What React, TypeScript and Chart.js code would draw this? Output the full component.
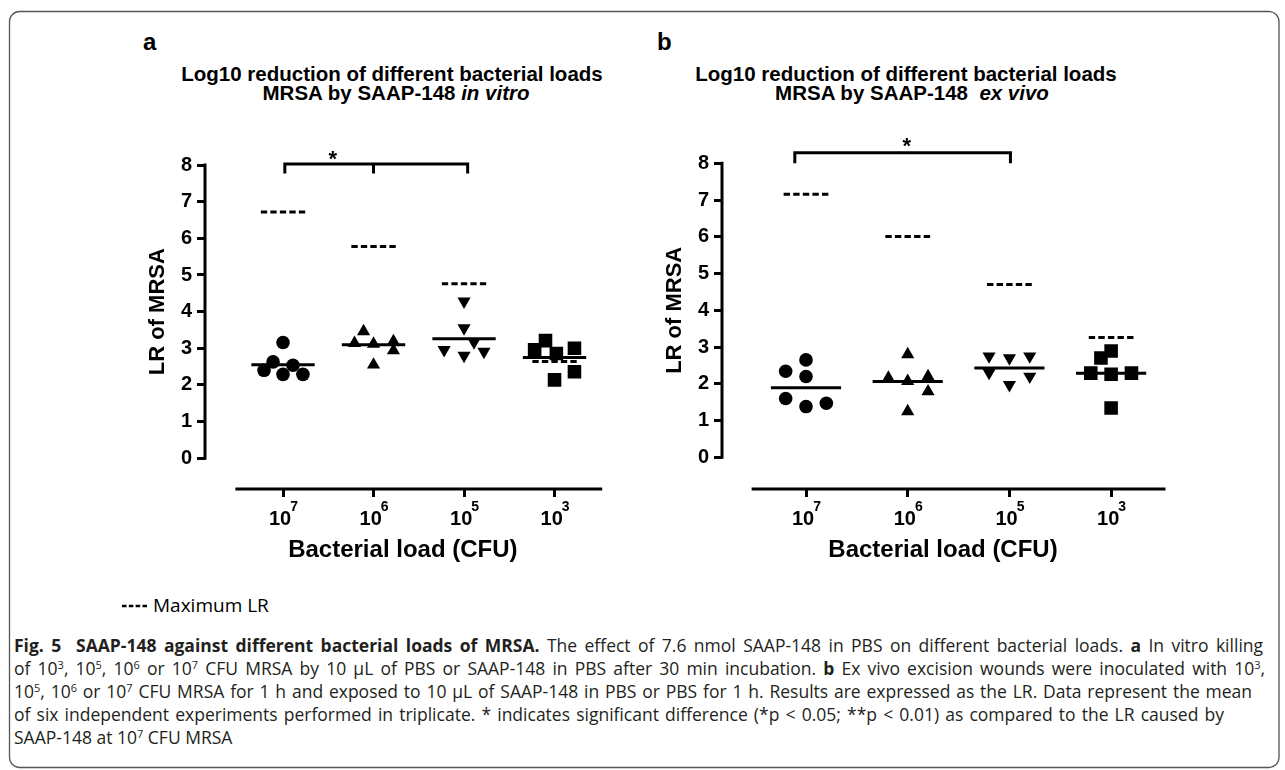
import React, { useEffect, useRef } from "react";
import { Chart, registerables } from "chart.js";

Chart.register(...registerables);

// ---------------- DATA ----------------
// categories: bacterial load 10^n CFU (exponents shown as tick labels)
const loadExponents = ["7", "6", "5", "3"];
const yTickValues = [0, 1, 2, 3, 4, 5, 6, 7, 8];

// panel a: in vitro (LR of MRSA), six replicates per load
const vitroLoad7 = [3.16, 2.63, 2.54, 2.4, 2.29, 2.29];
const vitroLoad7Jitter = [0, -0.11, 0.11, -0.21, 0, 0.22];
const vitroLoad6 = [3.46, 3.14, 3.12, 3.19, 2.94, 2.55];
const vitroLoad6Jitter = [-0.11, -0.21, 0, 0.22, 0.22, 0];
const vitroLoad5 = [4.28, 3.55, 2.96, 3.17, 2.91, 2.8];
const vitroLoad5Jitter = [0, 0, -0.22, 0.11, 0.22, 0];
const vitroLoad3 = [2.96, 3.21, 2.86, 3.0, 2.36, 2.14];
const vitroLoad3Jitter = [-0.22, -0.1, 0.02, 0.22, 0.22, 0];
const vitroMeans = [2.55, 3.1, 3.26, 2.75];
const vitroMaxLR = [6.72, 5.78, 4.76, 2.64];

// panel b: ex vivo
const vivoLoad7 = [2.65, 2.34, 2.2, 1.6, 1.38, 1.47];
const vivoLoad7Jitter = [0, -0.2, 0, -0.2, 0, 0.2];
const vivoLoad6 = [2.8, 2.16, 2.07, 2.2, 1.79, 1.25];
const vivoLoad6Jitter = [0, -0.19, 0, 0.2, 0.2, 0];
const vivoLoad5 = [2.75, 2.7, 2.75, 2.3, 1.97, 2.2];
const vivoLoad5Jitter = [-0.2, 0, 0.2, -0.2, 0, 0.2];
const vivoLoad3 = [2.89, 2.7, 2.29, 2.26, 2.29, 1.34];
const vivoLoad3Jitter = [0, -0.1, -0.2, 0, 0.2, 0];
const vivoMeans = [1.89, 2.06, 2.43, 2.29];
const vivoMaxLR = [7.16, 6.01, 4.7, 3.26];

// ---------------- STYLE ----------------
const FONT = '"Liberation Sans", Arial, Helvetica, sans-serif';
const CAPTION_FONT = '"Open Sans", "Noto Sans", sans-serif';
const CAPTION_SIZE = 17.5;
const CAPTION_SUP = 11;

const markerStyles = [
  { style: "circle", rotation: 0, radius: 6.8 },
  { style: "triangle", rotation: 0, radius: 7.6 },
  { style: "triangle", rotation: 180, radius: 7.6 },
  { style: "rect", rotation: 0, radius: 9.6 },
];

type PanelCfg = {
  values: number[][];
  jitter: number[][];
  means: number[];
  maxLR: number[];
  box: { left: number; top: number; width: number; height: number };
  xMin: number;
  xMax: number;
  axisFrom: number;
  yMin: number;
  padTop: number;
  padRight: number;
  yScaleWidth: number;
  xScaleHeight: number;
  titlePadBottom: number;
  meanHalf: number;
  dashHalf: number;
  bracketLegs: number[];
  bracketTop: number;
  bracketLegEnd: number;
  star: number[];
};

const panelA: PanelCfg = {
  values: [vitroLoad7, vitroLoad6, vitroLoad5, vitroLoad3],
  jitter: [vitroLoad7Jitter, vitroLoad6Jitter, vitroLoad5Jitter, vitroLoad3Jitter],
  means: vitroMeans,
  maxLR: vitroMaxLR,
  box: { left: 100, top: 120, width: 530, height: 460 },
  xMin: -0.862,
  xMax: 3.51,
  axisFrom: -0.51,
  yMin: -0.837,
  padTop: 45,
  padRight: 29.3,
  yScaleWidth: 105,
  xScaleHeight: 91,
  titlePadBottom: 15.6,
  meanHalf: 0.35,
  dashHalf: 0.245,
  bracketLegs: [0.02, 1.0, 2.04],
  bracketTop: 8.03,
  bracketLegEnd: 7.77,
  star: [0.55, 8.32],
};

const panelB: PanelCfg = {
  values: [vivoLoad7, vivoLoad6, vivoLoad5, vivoLoad3],
  jitter: [vivoLoad7Jitter, vivoLoad6Jitter, vivoLoad5Jitter, vivoLoad3Jitter],
  means: vivoMeans,
  maxLR: vivoMaxLR,
  box: { left: 630, top: 120, width: 550, height: 460 },
  xMin: -0.826,
  xMax: 3.52,
  axisFrom: -0.52,
  yMin: -0.863,
  padTop: 43.3,
  padRight: 16,
  yScaleWidth: 92,
  xScaleHeight: 91,
  titlePadBottom: 15.6,
  meanHalf: 0.345,
  dashHalf: 0.22,
  bracketLegs: [-0.11, 2.01],
  bracketTop: 8.29,
  bracketLegEnd: 8.0,
  star: [0.99, 8.63],
};

function overlayPlugin(p: PanelCfg) {
  return {
    id: "gpOverlay",
    afterDatasetsDraw(chart: any) {
      const { ctx } = chart;
      const xs = chart.scales.x;
      const ys = chart.scales.y;
      ctx.save();
      ctx.strokeStyle = "#000";
      ctx.lineWidth = 3;
      ctx.lineCap = "butt";
      p.means.forEach((m, i) => {
        const y = ys.getPixelForValue(m);
        ctx.beginPath();
        ctx.moveTo(xs.getPixelForValue(i - p.meanHalf), y);
        ctx.lineTo(xs.getPixelForValue(i + p.meanHalf), y);
        ctx.stroke();
      });
      p.maxLR.forEach((m, i) => {
        const x1 = xs.getPixelForValue(i - p.dashHalf);
        const x2 = xs.getPixelForValue(i + p.dashHalf);
        const d = (x2 - x1) / 7;
        ctx.setLineDash([d, d / 2]);
        const y = ys.getPixelForValue(m);
        ctx.beginPath();
        ctx.moveTo(x1, y);
        ctx.lineTo(x2, y);
        ctx.stroke();
      });
      ctx.setLineDash([]);
      ctx.restore();
    },
    afterDraw(chart: any) {
      const { ctx, chartArea } = chart;
      const xs = chart.scales.x;
      const ys = chart.scales.y;
      ctx.save();
      ctx.strokeStyle = "#000";
      ctx.fillStyle = "#000";
      ctx.lineWidth = 3;
      // axis lines (GraphPad-style detached axes)
      ctx.lineCap = "square";
      ctx.beginPath();
      ctx.moveTo(chartArea.left, ys.getPixelForValue(yTickValues[yTickValues.length - 1]));
      ctx.lineTo(chartArea.left, ys.getPixelForValue(yTickValues[0]));
      ctx.stroke();
      ctx.beginPath();
      ctx.moveTo(xs.getPixelForValue(p.axisFrom), chartArea.bottom);
      ctx.lineTo(xs.getPixelForValue(p.xMax), chartArea.bottom);
      ctx.stroke();
      // x tick labels 10^n
      loadExponents.forEach((e, i) => {
        const cx = xs.getPixelForValue(i);
        ctx.font = `bold 20px ${FONT}`;
        const w1 = ctx.measureText("10").width;
        ctx.font = `bold 14px ${FONT}`;
        const w2 = ctx.measureText(e).width;
        const x0 = cx - (w1 + w2) / 2 + 1;
        ctx.textAlign = "left";
        ctx.textBaseline = "alphabetic";
        ctx.font = `bold 20px ${FONT}`;
        ctx.fillText("10", x0, chartArea.bottom + 36);
        ctx.font = `bold 14px ${FONT}`;
        ctx.fillText(e, x0 + w1 - 1, chartArea.bottom + 22);
      });
      // y title
      ctx.save();
      const yMid = (ys.getPixelForValue(0) + ys.getPixelForValue(8)) / 2;
      ctx.translate(chartArea.left - 47, yMid);
      ctx.rotate(-Math.PI / 2);
      ctx.font = `bold 22px ${FONT}`;
      ctx.textAlign = "center";
      ctx.textBaseline = "middle";
      ctx.fillText("LR of MRSA", 0, 0);
      ctx.restore();
      // significance bracket
      ctx.lineCap = "butt";
      ctx.lineJoin = "miter";
      ctx.lineWidth = 3;
      const yT = ys.getPixelForValue(p.bracketTop);
      const yL = ys.getPixelForValue(p.bracketLegEnd);
      const legs = p.bracketLegs.map((v) => xs.getPixelForValue(v));
      const last = legs.length - 1;
      ctx.beginPath();
      ctx.moveTo(legs[0], yL);
      ctx.lineTo(legs[0], yT);
      ctx.lineTo(legs[last], yT);
      ctx.lineTo(legs[last], yL);
      for (let k = 1; k < last; k++) {
        ctx.moveTo(legs[k], yT);
        ctx.lineTo(legs[k], yL);
      }
      ctx.stroke();
      ctx.font = `bold 22px ${FONT}`;
      ctx.textAlign = "center";
      ctx.textBaseline = "alphabetic";
      ctx.fillText("*", xs.getPixelForValue(p.star[0]), ys.getPixelForValue(p.star[1]) + 0.575 * 22);
      ctx.restore();
    },
  };
}

function buildConfig(p: PanelCfg): any {
  return {
    type: "scatter",
    data: {
      datasets: p.values.map((vals, gi) => ({
        label: "10^" + loadExponents[gi],
        data: vals.map((v, j) => ({ x: gi + p.jitter[gi][j], y: v })),
        pointStyle: markerStyles[gi].style,
        pointRotation: markerStyles[gi].rotation,
        pointRadius: markerStyles[gi].radius,
        pointHoverRadius: markerStyles[gi].radius,
        pointBackgroundColor: "#000",
        pointBorderColor: "#000",
        pointBorderWidth: 0,
        showLine: false,
      })),
    },
    options: {
      animation: false,
      responsive: true,
      maintainAspectRatio: false,
      events: [],
      layout: { padding: { left: 0, top: p.padTop, right: p.padRight, bottom: 0 } },
      plugins: { legend: { display: false }, tooltip: { enabled: false }, title: { display: false } },
      scales: {
        x: {
          type: "linear",
          min: p.xMin,
          max: p.xMax,
          afterBuildTicks: (s: any) => {
            s.ticks = loadExponents.map((_, i) => ({ value: i }));
          },
          afterFit: (s: any) => {
            s.height = p.xScaleHeight;
          },
          grid: { drawOnChartArea: false, drawTicks: true, tickLength: 8, lineWidth: 3, color: "#000" },
          border: { display: false },
          ticks: { display: false },
          title: {
            display: true,
            text: "Bacterial load (CFU)",
            color: "#000",
            font: { family: FONT, size: 24, weight: "bold" },
            padding: { top: 0, bottom: p.titlePadBottom },
          },
        },
        y: {
          type: "linear",
          min: p.yMin,
          max: 8,
          afterBuildTicks: (s: any) => {
            s.ticks = yTickValues.map((v) => ({ value: v }));
          },
          afterFit: (s: any) => {
            s.width = p.yScaleWidth;
          },
          grid: { drawOnChartArea: false, drawTicks: true, tickLength: 8, lineWidth: 3, color: "#000" },
          border: { display: false },
          ticks: { color: "#000", padding: 5, font: { family: FONT, size: 20, weight: "bold" } },
        },
      },
    },
    plugins: [overlayPlugin(p)],
  };
}

function ChartPanel({ p }: { p: PanelCfg }) {
  const ref = useRef<HTMLCanvasElement>(null);
  useEffect(() => {
    if (!ref.current) return;
    const chart = new Chart(ref.current, buildConfig(p));
    return () => chart.destroy();
  }, [p]);
  return (
    <div style={{ position: "absolute", left: p.box.left, top: p.box.top, width: p.box.width, height: p.box.height }}>
      <canvas ref={ref} />
    </div>
  );
}

type Seg = [string, "n" | "b" | "s"];

let measureCtx: CanvasRenderingContext2D | null = null;
function measureSegs(segs: Seg[]) {
  if (!measureCtx) measureCtx = document.createElement("canvas").getContext("2d");
  let w = 0;
  let spaces = 0;
  for (const [t, k] of segs) {
    const size = k === "s" ? CAPTION_SUP : CAPTION_SIZE;
    measureCtx!.font = `${k === "b" ? "bold " : ""}${size}px ${CAPTION_FONT}`;
    w += measureCtx!.measureText(t).width;
    if (k !== "s") spaces += (t.match(/ /g) || []).length;
  }
  return { w, spaces };
}

function CaptionLine({ y, len, segs }: { y: number; len?: number; segs: Seg[] }) {
  let raised = false;
  let wordSpacing = 0;
  if (len) {
    const { w, spaces } = measureSegs(segs);
    if (spaces > 0) wordSpacing = (len - w) / spaces;
  }
  return (
    <text
      x={14}
      y={y}
      fontFamily={CAPTION_FONT}
      fontSize={CAPTION_SIZE}
      fill="#231f20"
      style={{ whiteSpace: "pre", wordSpacing: `${wordSpacing}px` }}
    >
      {segs.map(([t, k], i) => {
        let dy = 0;
        if (k === "s" && !raised) {
          dy = -6.5;
          raised = true;
        } else if (k !== "s" && raised) {
          dy = 6.5;
          raised = false;
        }
        return (
          <tspan key={i} dy={dy || undefined} fontWeight={k === "b" ? "bold" : undefined} fontSize={k === "s" ? CAPTION_SUP : undefined}>
            {t}
          </tspan>
        );
      })}
    </text>
  );
}

export default function App() {
  return (
    <div style={{ position: "absolute", left: 0, top: 0, width: 1285, height: 770, background: "#fff", overflow: "hidden" }}>
      <svg width={1285} height={770} style={{ position: "absolute", left: 0, top: 0 }}>
        <rect x={9.5} y={11.5} width={1269.5} height={756} rx={10} ry={10} fill="none" stroke="#555" strokeWidth={1.3} />
        {/* panel letters */}
        <text x={143} y={50} fontFamily={FONT} fontWeight="bold" fontSize={24} fill="#000">a</text>
        <text x={657} y={50} fontFamily={FONT} fontWeight="bold" fontSize={24} fill="#000">b</text>
        {/* panel titles */}
        <text x={392} y={81} textAnchor="middle" fontFamily={FONT} fontWeight="bold" fontSize={20.5} fill="#000">
          Log10 reduction of different bacterial loads
        </text>
        <text x={396} y={100} textAnchor="middle" fontFamily={FONT} fontWeight="bold" fontSize={20.5} fill="#000" style={{ whiteSpace: "pre" }}>
          {"MRSA by SAAP-148 "}
          <tspan fontStyle="italic">in vitro</tspan>
        </text>
        <text x={906} y={81} textAnchor="middle" fontFamily={FONT} fontWeight="bold" fontSize={20.5} fill="#000">
          Log10 reduction of different bacterial loads
        </text>
        <text x={912} y={100} textAnchor="middle" fontFamily={FONT} fontWeight="bold" fontSize={20.5} fill="#000" style={{ whiteSpace: "pre" }}>
          {"MRSA by SAAP-148  "}
          <tspan fontStyle="italic">ex vivo</tspan>
        </text>
        {/* legend */}
        <line x1={122} y1={606} x2={147} y2={606} stroke="#000" strokeWidth={2.6} strokeDasharray="4.55 2.27" />
        <text x={153} y={612} fontFamily={CAPTION_FONT} fontSize={19} fill="#000">Maximum LR</text>
        {/* caption */}
        <CaptionLine
          y={652}
          len={1249}
          segs={[
            ["Fig. 5  SAAP-148 against different bacterial loads of MRSA.", "b"],
            [" The effect of 7.6 nmol SAAP-148 in PBS on different bacterial loads. ", "n"],
            ["a", "b"],
            [" In vitro killing", "n"],
          ]}
        />
        <CaptionLine
          y={675}
          len={1251}
          segs={[
            ["of 10", "n"], ["3", "s"], [", 10", "n"], ["5", "s"], [", 10", "n"], ["6", "s"], [" or 10", "n"], ["7", "s"],
            [" CFU MRSA by 10 µL of PBS or SAAP-148 in PBS after 30 min incubation. ", "n"],
            ["b", "b"],
            [" Ex vivo excision wounds were inoculated with 10", "n"], ["3", "s"], [",", "n"],
          ]}
        />
        <CaptionLine
          y={698}
          len={1238}
          segs={[
            ["10", "n"], ["5", "s"], [", 10", "n"], ["6", "s"], [" or 10", "n"], ["7", "s"],
            [" CFU MRSA for 1 h and exposed to 10 µL of SAAP-148 in PBS or PBS for 1 h. Results are expressed as the LR. Data represent the mean", "n"],
          ]}
        />
        <CaptionLine
          y={721}
          len={1210}
          segs={[
            ["of six independent experiments performed in triplicate. * indicates significant difference (*p < 0.05; **p < 0.01) as compared to the LR caused by", "n"],
          ]}
        />
        <CaptionLine y={744} segs={[["SAAP-148 at 10", "n"], ["7", "s"], [" CFU MRSA", "n"]]} />
      </svg>
      <ChartPanel p={panelA} />
      <ChartPanel p={panelB} />
    </div>
  );
}
